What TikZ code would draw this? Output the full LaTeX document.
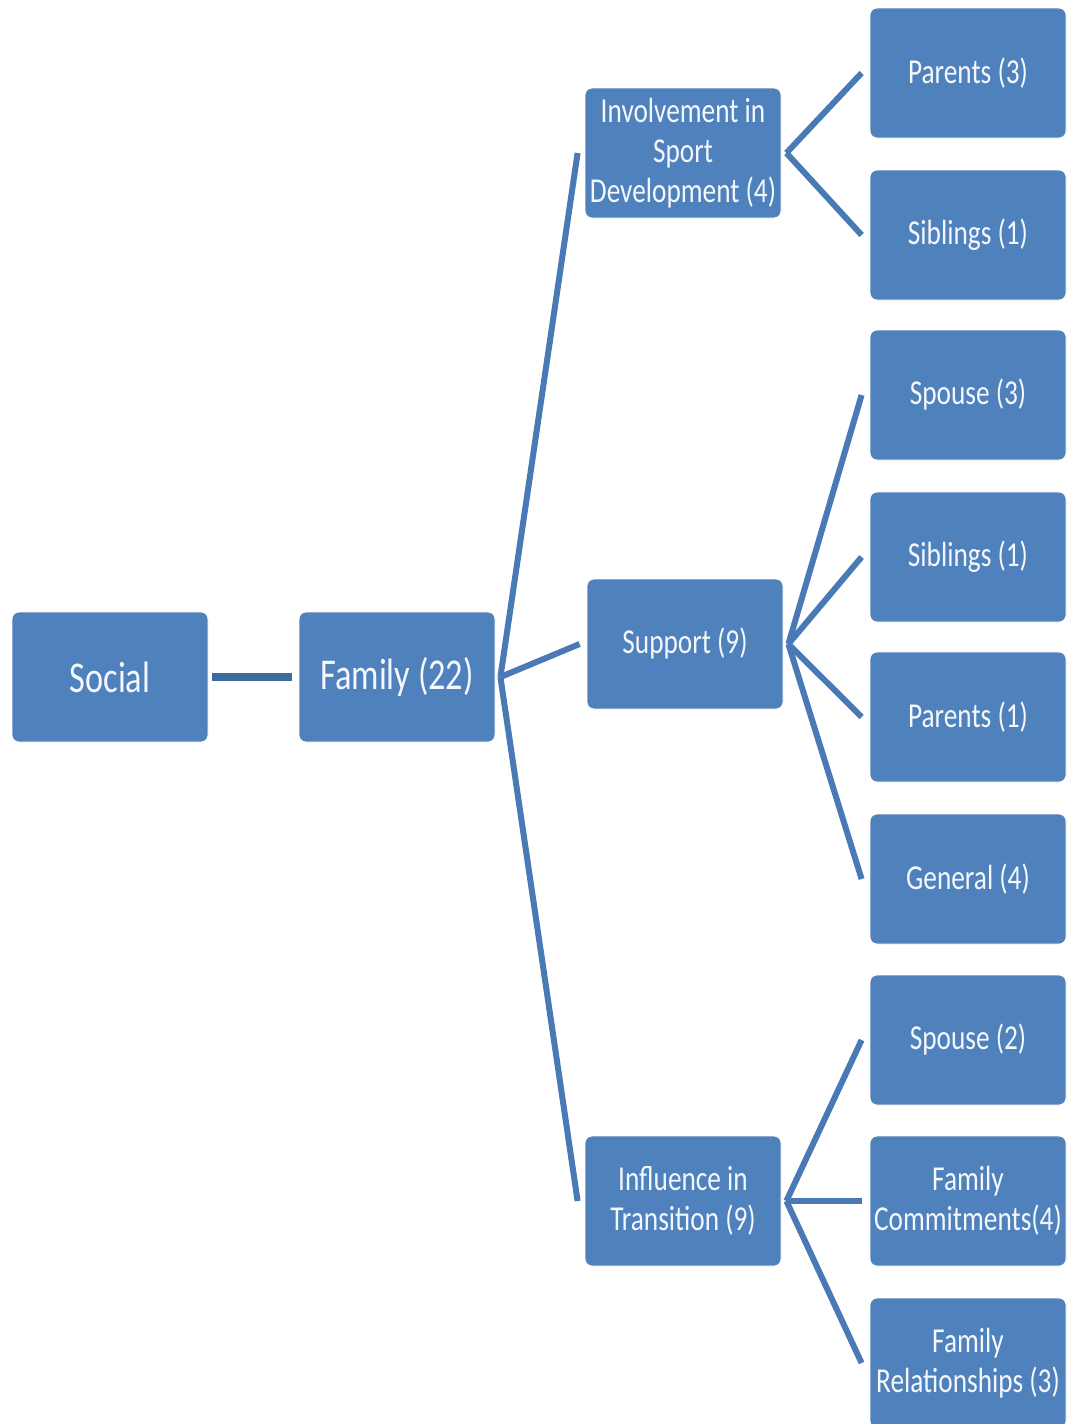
\documentclass[tikz,border=0pt]{standalone}
\usepackage{fontspec}
\newfontfamily\boxfont[FakeStretch=0.78]{Carlito}
\definecolor{boxblue}{HTML}{4F81BD}
\definecolor{linkblue}{HTML}{4A7AB5}
\definecolor{stemblue}{HTML}{3E6A9E}
\definecolor{boxtext}{HTML}{F4F7FB}
\tikzset{
  every picture/.style={x=1pt,y=1pt},
  box/.style={draw=white, line width=0.8pt, fill=boxblue, rounded corners=7pt,
    minimum width=196pt, minimum height=130pt, inner sep=2pt,
    text=boxtext, align=center, font=\boxfont\fontsize{35}{40}\selectfont},
  bigbox/.style={box, font=\boxfont\fontsize{44}{48}\selectfont},
  link/.style={draw=linkblue, line width=6pt},
  stem/.style={draw=stemblue, line width=8pt}
}
\begin{document}
\begin{tikzpicture}
\useasboundingbox (0,0) rectangle (1071,-1424);

% root and first level
\node[bigbox] (soc) at (110,-677) {Social};
\node[bigbox] (fam) at (397,-677) {Family (22)};

% second level
\node[box] (inv) at (683,-153) {Involvement in\\Sport\\Development (4)};
\node[box] (sup) at (685,-644) {Support (9)};
\node[box] (inf) at (683,-1201) {Influence in\\Transition (9)};

% leaves
\node[box] (par3) at (968,-73)   {Parents (3)};
\node[box] (sib1) at (968,-235)  {Siblings (1)};
\node[box] (spo3) at (968,-395)  {Spouse (3)};
\node[box] (sib2) at (968,-557)  {Siblings (1)};
\node[box] (par1) at (968,-717)  {Parents (1)};
\node[box] (gen)  at (968,-879)  {General (4)};
\node[box] (spo2) at (968,-1040) {Spouse (2)};
\node[box] (fcom) at (968,-1201) {Family\\Commitments(4)};
\node[box] (frel) at (968,-1363) {Family\\Relationships (3)};

% connectors
\draw[stem] ([xshift=4pt]soc.east) -- ([xshift=-7pt]fam.east -| fam.west);

\foreach \t in {inv,sup,inf}
  \draw[link] ([xshift=5pt]fam.east) -- ([xshift=-7pt]\t.west);

\foreach \t in {par3,sib1}
  \draw[link] ([xshift=5pt]inv.east) -- ([xshift=-8pt]\t.west);

\foreach \t in {spo3,sib2,par1,gen}
  \draw[link] ([xshift=5pt]sup.east) -- ([xshift=-8pt]\t.west);

\foreach \t in {spo2,fcom,frel}
  \draw[link] ([xshift=5pt]inf.east) -- ([xshift=-8pt]\t.west);
\end{tikzpicture}
\end{document}
